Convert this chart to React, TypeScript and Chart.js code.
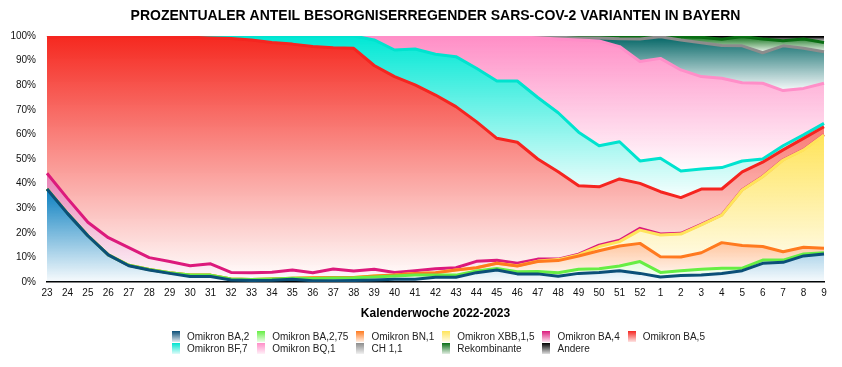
import React, { useEffect, useRef } from 'react';
import { Chart, registerables } from 'chart.js';

Chart.register(...registerables);

const TITLE = 'PROZENTUALER ANTEIL BESORGNISERREGENDER SARS-COV-2 VARIANTEN IN BAYERN';
const X_TITLE = 'Kalenderwoche 2022-2023';

const WEEKS = [
  '23', '24', '25', '26', '27', '28', '29', '30', '31', '32', '33', '34', '35', '36', '37', '38',
  '39', '40', '41', '42', '43', '44', '45', '46', '47', '48', '49', '50', '51', '52',
  '1', '2', '3', '4', '5', '6', '7', '8', '9',
];

const Y_TICKS = [0, 10, 20, 30, 40, 50, 60, 70, 80, 90, 100];

const BA_2 = [37.8, 27.9, 18.8, 11.0, 6.6, 4.9, 3.5, 2.2, 2.2, 0.8, 0.6, 0.7, 1.1, 0.5, 0.5, 0.6, 0.8, 1.1, 1.1, 1.9, 1.9, 3.8, 4.9, 3.3, 3.3, 2.3, 3.5, 3.9, 4.6, 3.5, 2.0, 2.6, 2.8, 3.5, 4.6, 7.6, 8.0, 10.6, 11.4];
const BA_2_75 = [0, 0, 0, 0, 0.2, 0.2, 0.3, 0.6, 0.6, 0.4, 0.4, 0.5, 0.4, 0.9, 1.1, 1.1, 1.2, 1.3, 1.7, 0.9, 0.9, 0.7, 0.6, 0.9, 1.0, 1.5, 1.7, 1.5, 1.9, 4.8, 1.9, 2.0, 2.4, 2.1, 1.0, 1.3, 0.9, 0.8, 0.5];
const BN_1 = [0, 0, 0, 0, 0, 0, 0, 0, 0, 0, 0, 0, 0, 0.3, 0.2, 0.1, 0.4, 0.4, 0.7, 1.0, 2.1, 1.3, 2.1, 2.3, 4.0, 4.9, 5.4, 7.3, 8.1, 7.4, 6.4, 5.6, 6.7, 10.4, 9.2, 5.5, 3.4, 2.7, 1.8];
const XBB_1_5 = [0, 0, 0, 0, 0, 0, 0, 0, 0, 0, 0, 0, 0, 0, 0, 0, 0, 0, 0, 0, 0, 0, 0, 0.1, 0.2, 0.4, 0.4, 1.7, 1.8, 5.4, 8.8, 9.3, 11.3, 11.2, 22.6, 28.4, 37.3, 39.6, 46.1];
const BA_4 = [6.4, 6.1, 5.5, 7.0, 7.2, 4.8, 4.5, 3.8, 4.6, 2.7, 2.8, 2.8, 3.4, 2.1, 3.5, 2.7, 2.8, 1.1, 1.1, 1.6, 0.9, 2.6, 1.2, 1.0, 0.8, 0.2, 0.3, 0.6, 0.6, 0.7, 0.4, 0.3, 0.2, 0.1, 0.1, 0.1, 0.1, 0.1, 0.1];
const BA_5 = [55.3, 66.0, 75.7, 82.0, 86.0, 89.9, 91.4, 92.9, 91.8, 95.1, 94.6, 93.4, 91.8, 91.9, 89.9, 90.5, 82.8, 79.6, 75.5, 70.6, 65.5, 56.8, 49.6, 49.2, 40.7, 35.5, 27.8, 23.7, 24.9, 18.3, 17.2, 14.5, 14.4, 10.5, 7.3, 5.8, 4.0, 4.6, 3.2];
const BF_7 = [0, 0, 0, 0, 0, 0.2, 0.3, 0.5, 0.8, 1.0, 1.6, 2.6, 3.3, 4.3, 4.8, 5.0, 10.4, 10.8, 14.6, 16.6, 20.3, 21.7, 23.3, 24.9, 25.0, 24.0, 21.8, 16.7, 15.1, 9.1, 13.6, 10.8, 8.1, 8.7, 4.4, 1.3, 1.7, 1.4, 1.4];
const BQ_1 = [0, 0, 0, 0, 0, 0, 0, 0, 0, 0, 0, 0, 0, 0, 0, 0, 1.5, 5.6, 5.2, 7.3, 8.3, 12.9, 18.1, 17.9, 24.3, 30.0, 37.5, 42.6, 38.7, 40.4, 40.6, 41.1, 37.6, 36.3, 31.8, 30.8, 22.4, 18.9, 16.3];
const CH_1_1 = [0, 0, 0, 0, 0, 0, 0, 0, 0, 0, 0, 0, 0, 0, 0, 0, 0, 0, 0, 0, 0, 0, 0, 0.2, 0.6, 0.7, 0.8, 1.2, 3.2, 9.2, 8.8, 12.2, 13.8, 13.3, 15.0, 12.4, 18.2, 16.3, 12.8];
const REKOMBINANTE = [0, 0, 0, 0, 0, 0, 0, 0, 0, 0, 0, 0, 0, 0, 0, 0, 0, 0, 0, 0, 0, 0, 0, 0.1, 0, 0.3, 0.5, 0.5, 0.8, 1.0, 0.1, 1.3, 2.2, 2.6, 3.8, 5.6, 2.1, 3.8, 3.8];
const ANDERE = [0.5, 0, 0, 0, 0, 0, 0, 0, 0, 0, 0, 0, 0, 0, 0, 0, 0.1, 0.1, 0.1, 0.1, 0.1, 0.2, 0.2, 0.1, 0.1, 0.2, 0.3, 0.3, 0.3, 0.2, 0.2, 0.3, 0.5, 1.3, 0.2, 1.2, 1.9, 1.2, 2.6];

const SERIES = [
  { label: 'Omikron BA,2', data: BA_2, line: '#0b4f78', fill: '#0a7fc0' },
  { label: 'Omikron BA,2,75', data: BA_2_75, line: '#66ee44', fill: '#8ef070' },
  { label: 'Omikron BN,1', data: BN_1, line: '#ff7a1f', fill: '#ff7a1f' },
  { label: 'Omikron XBB,1,5', data: XBB_1_5, line: '#ffe45a', fill: '#ffe45a' },
  { label: 'Omikron BA,4', data: BA_4, line: '#dc1a7c', fill: '#e0549a' },
  { label: 'Omikron BA,5', data: BA_5, line: '#f52520', fill: '#f5281f' },
  { label: 'Omikron BF,7', data: BF_7, line: '#00e3cf', fill: '#00e8d5' },
  { label: 'Omikron BQ,1', data: BQ_1, line: '#ff8ec8', fill: '#ff8ec6' },
  { label: 'CH 1,1', data: CH_1_1, line: '#8c8c8c', fill: '#006464' },
  { label: 'Rekombinante', data: REKOMBINANTE, line: '#0a6e14', fill: '#0a7014' },
  { label: 'Andere', data: ANDERE, line: '#000000', fill: '#000000' },
];

const FONT = '"Liberation Sans", Arial, Helvetica, sans-serif';

function rgba(hex: string, a: number) {
  const h = hex.replace('#', '');
  const r = parseInt(h.slice(0, 2), 16);
  const g = parseInt(h.slice(2, 4), 16);
  const b = parseInt(h.slice(4, 6), 16);
  return `rgba(${r},${g},${b},${a})`;
}

export default function App() {
  const ref = useRef<HTMLCanvasElement | null>(null);

  useEffect(() => {
    if (!ref.current) return;
    // cumulative stacks (for gradient extents only)
    const cums: number[][] = [];
    SERIES.forEach((s, i) => {
      cums.push(s.data.map((v, j) => (i === 0 ? v : cums[i - 1][j] + v)));
    });

    const datasets = SERIES.map((s, i) => ({
      label: s.label,
      data: s.data,
      borderColor: s.line,
      borderWidth: 3,
      borderJoinStyle: 'round' as const,
      pointRadius: 0,
      tension: 0,
      fill: i === 0 ? 'origin' : '-1',
      backgroundColor: (ctx: any) => {
        const chart = ctx.chart;
        const { chartArea, scales } = chart;
        if (!chartArea || !scales.y) return rgba(s.fill, 0.5);
        const top = Math.max(...cums[i]);
        const bottom = i === 0 ? 0 : Math.min(...cums[i - 1]);
        const y0 = scales.y.getPixelForValue(top);
        let y1 = scales.y.getPixelForValue(bottom);
        if (y1 - y0 < 1) y1 = y0 + 1;
        const g = chart.ctx.createLinearGradient(0, y0, 0, y1);
        g.addColorStop(0, s.fill);
        g.addColorStop(1, rgba(s.fill, 0.03));
        return g;
      },
    }));

    const chart = new Chart(ref.current, {
      type: 'line',
      data: { labels: WEEKS, datasets },
      options: {
        animation: false,
        responsive: false,
        maintainAspectRatio: false,
        devicePixelRatio: 1,
        layout: { padding: { left: 0, right: 18, top: 0, bottom: 45 } },
        plugins: {
          legend: { display: false },
          tooltip: { enabled: false },
          title: {
            display: true,
            text: TITLE,
            fullSize: false,
            color: '#000',
            font: { family: FONT, size: 14, weight: 'bold', lineHeight: 1.2 },
            padding: { top: 8, bottom: 11.2 },
          },
        },
        scales: {
          x: {
            grid: { display: false, drawTicks: false },
            border: { display: true, color: '#000', width: 1.5 },
            ticks: {
              autoSkip: false,
              maxRotation: 0,
              padding: 5,
              color: '#111',
              font: { family: FONT, size: 10 },
            },
            title: {
              display: true,
              text: X_TITLE,
              color: '#000',
              font: { family: FONT, size: 12, weight: 'bold', lineHeight: 1.2 },
              padding: { top: 0, bottom: 1 },
            },
            afterFit: (s: any) => {
              s.height = 40;
            },
          },
          y: {
            stacked: true,
            min: 0,
            max: 100,
            grid: { display: false, drawTicks: false },
            border: { display: false },
            afterBuildTicks: (s: any) => {
              s.ticks = Y_TICKS.map((v) => ({ value: v }));
            },
            ticks: {
              padding: 11,
              color: '#111',
              font: { family: FONT, size: 10 },
              callback: (v: any) => `${v}%`,
            },
            afterFit: (s: any) => {
              s.width = 47;
            },
          },
        },
      } as any,
    });
    return () => chart.destroy();
  }, []);

  return (
    <div style={{ position: 'absolute', left: 0, top: 0, width: 842, height: 367, background: '#fff' }}>
      <canvas ref={ref} width={842} height={367} style={{ display: 'block', width: 842, height: 367 }} />
      <div
        style={{
          position: 'absolute',
          left: 172,
          top: 330,
          display: 'grid',
          gridTemplateColumns: 'repeat(6, auto)',
          columnGap: 8,
          rowGap: 0,
          fontFamily: FONT,
          fontSize: 10,
          color: '#222',
        }}
      >
        {SERIES.map((s) => (
          <div key={s.label} style={{ display: 'flex', alignItems: 'center', height: 12, whiteSpace: 'nowrap' }}>
            <span
              style={{
                display: 'inline-block',
                width: 8,
                height: 11,
                marginRight: 7,
                background: `linear-gradient(${s.line}, ${rgba(s.line, 0.12)})`,
              }}
            />
            <span>{s.label}</span>
          </div>
        ))}
      </div>
    </div>
  );
}
